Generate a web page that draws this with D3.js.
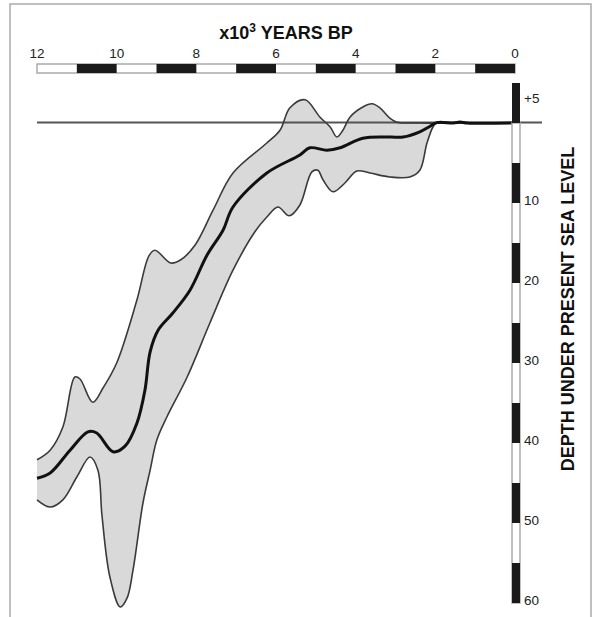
<!DOCTYPE html>
<html>
<head>
<meta charset="utf-8">
<script src="https://cdn.jsdelivr.net/npm/d3@7"></script>
<style>
  body { margin: 0; background: #fff; }
  svg { display: block; font-family: "Liberation Sans", Arial, sans-serif; }
</style>
</head>
<body>
<svg id="chart" width="595" height="617"></svg>
<script>
// ages in 10^3 years BP, depths in m below present sea level (negative = above)
const upperAge   = [12.0, 11.67, 11.35, 11.05, 10.92, 10.6, 10.34, 10.0, 9.49, 9.19, 9.04, 8.64, 8.39, 8.03, 7.58, 7.08, 6.23, 5.9, 5.65, 5.27, 4.9, 4.64, 4.47, 4.32, 4.14, 3.82, 3.59, 3.39, 3.14, 2.96, 2.4, 1.5, 0];
const upperDepth = [42.1, 40.9, 38.0, 31.75, 32.0, 34.9, 33.1, 30.0, 22.1, 16.6, 15.9, 17.5, 17.1, 15.25, 10.9, 6.25, 2.5, 0.9, -1.9, -2.9, -0.75, 0.5, 1.75, 0.9, -0.75, -2.0, -2.4, -1.9, -0.6, -0.1, 0, 0, 0];

const meanAge   = [12.0, 11.67, 11.17, 10.72, 10.5, 10.09, 9.79, 9.49, 9.29, 9.16, 8.96, 8.59, 8.16, 7.73, 7.33, 7.08, 6.23, 5.4, 5.15, 4.72, 4.39, 3.82, 3.14, 2.81, 2.39, 2.13, 1.96, 1.55, 1.38, 1.2, 0];
const meanDepth = [44.4, 43.75, 40.9, 38.6, 38.75, 41.1, 40.4, 37.5, 33.4, 28.6, 25.9, 23.75, 20.9, 16.5, 13.4, 10.5, 6.25, 4.0, 3.1, 3.4, 3.1, 1.9, 1.75, 1.75, 1.1, 0.4, -0.05, 0, -0.12, 0, 0];

const lowerAge   = [12.0, 11.67, 11.35, 11.0, 10.67, 10.47, 10.37, 10.17, 9.91, 9.74, 9.59, 9.34, 9.16, 8.99, 8.74, 8.23, 7.66, 7.08, 6.53, 6.23, 5.95, 5.67, 5.4, 5.1, 4.95, 4.82, 4.57, 4.27, 3.97, 3.64, 3.14, 2.64, 2.39, 2.21, 2.06, 1.96, 1.5, 0];
const lowerDepth = [47.1, 48.0, 47.1, 44.25, 41.75, 43.4, 49.0, 56.75, 60.5, 59.4, 55.9, 47.5, 43.4, 39.6, 36.75, 31.75, 25.0, 18.4, 13.6, 11.75, 10.5, 11.6, 10.25, 6.1, 5.9, 7.1, 8.6, 7.5, 6.0, 6.25, 6.75, 6.75, 5.9, 2.5, 0.5, -0.1, 0, 0];

const ageTicks = [12, 10, 8, 6, 4, 2, 0];
const depthTicks = [-5, 10, 20, 30, 40, 50, 60];
const depthTickLabels = ["+5", "10", "20", "30", "40", "50", "60"];

const svg = d3.select("#chart");

const x = d3.scaleLinear().domain([12, 0]).range([37, 515]);
const y = d3.scaleLinear().domain([-5, 60]).range([83, 603]);

const zip = (a, d) => a.map((v, i) => [v, d[i]]);
const upper = zip(upperAge, upperDepth);
const mean = zip(meanAge, meanDepth);
const lower = zip(lowerAge, lowerDepth);

// outer frame
svg.append("rect")
  .attr("x", 10).attr("y", 4)
  .attr("width", 581).attr("height", 700)
  .attr("fill", "none")
  .attr("stroke", "#aaa")
  .attr("stroke-width", 1.5);

const line = d3.line()
  .x(d => x(d[0]))
  .y(d => y(d[1]))
  .curve(d3.curveCatmullRom.alpha(0.5));

// shaded envelope: upper edge then lower edge back
const lowerBack = lower.slice().reverse();
svg.append("path")
  .attr("d", line(upper) + line(lowerBack).replace(/^M/, "L") + "Z")
  .attr("fill", "#d9d9d9")
  .attr("stroke", "none");

// present sea level
svg.append("line")
  .attr("x1", 37).attr("x2", 542)
  .attr("y1", y(0) - 0.5).attr("y2", y(0) - 0.5)
  .attr("stroke", "#555")
  .attr("stroke-width", 2);

[upper, lower].forEach(s => {
  svg.append("path")
    .attr("d", line(s))
    .attr("fill", "none")
    .attr("stroke", "#3a3a3a")
    .attr("stroke-width", 1.6);
});

svg.append("path")
  .attr("d", line(mean))
  .attr("fill", "none")
  .attr("stroke", "#111")
  .attr("stroke-width", 3);

// time scale bar along the top
const barTop = 64, barH = 9;
const ageSegs = d3.range(12, 0, -1);
svg.append("rect")
  .attr("x", x(12)).attr("y", barTop)
  .attr("width", x(0) - x(12)).attr("height", barH)
  .attr("fill", "#fff").attr("stroke", "#aaa").attr("stroke-width", 1.5);
svg.selectAll(".ageSeg")
  .data(ageSegs.filter(a => a % 2 === 1))
  .join("rect")
  .attr("class", "ageSeg")
  .attr("x", a => x(a)).attr("y", barTop)
  .attr("width", a => x(a - 1) - x(a)).attr("height", barH)
  .attr("fill", "#1a1a1a");

svg.selectAll(".ageLabel")
  .data(ageTicks)
  .join("text")
  .attr("class", "ageLabel")
  .attr("x", a => x(a)).attr("y", 58)
  .attr("text-anchor", "middle")
  .attr("font-size", 13.5)
  .attr("fill", "#222")
  .text(a => a);

const title = svg.append("text")
  .attr("x", 286).attr("y", 39)
  .attr("text-anchor", "middle")
  .attr("font-size", 18)
  .attr("font-weight", "bold")
  .attr("fill", "#111");
title.append("tspan").text("x10");
title.append("tspan").attr("dy", -7).attr("font-size", 12).text("3");
title.append("tspan").attr("dy", 7).text(" YEARS BP");

// depth scale bar on the right
const barX = x(0) - 3, barW = 8;
svg.append("rect")
  .attr("x", barX).attr("y", y(0))
  .attr("width", barW).attr("height", y(60) - y(0))
  .attr("fill", "#fff").attr("stroke", "#aaa").attr("stroke-width", 1.5);
const depthSegs = [[-5, 0]].concat(d3.range(5, 60, 10).map(d => [d, d + 5]));
svg.selectAll(".depthSeg")
  .data(depthSegs)
  .join("rect")
  .attr("class", "depthSeg")
  .attr("x", barX).attr("y", d => y(d[0]))
  .attr("width", barW).attr("height", d => y(d[1]) - y(d[0]))
  .attr("fill", "#1a1a1a");

svg.selectAll(".depthLabel")
  .data(depthTicks)
  .join("text")
  .attr("class", "depthLabel")
  .attr("x", barX + barW + 4)
  .attr("y", d => d < 0 ? y(-2.5) : y(d) + 2)
  .attr("font-size", 13.5)
  .attr("fill", "#222")
  .text((d, i) => depthTickLabels[i]);

svg.append("text")
  .attr("transform", "translate(574,309) rotate(-90)")
  .attr("text-anchor", "middle")
  .attr("font-size", 18)
  .attr("font-weight", "bold")
  .attr("fill", "#111")
  .text("DEPTH UNDER PRESENT SEA LEVEL");
</script>
</body>
</html>
